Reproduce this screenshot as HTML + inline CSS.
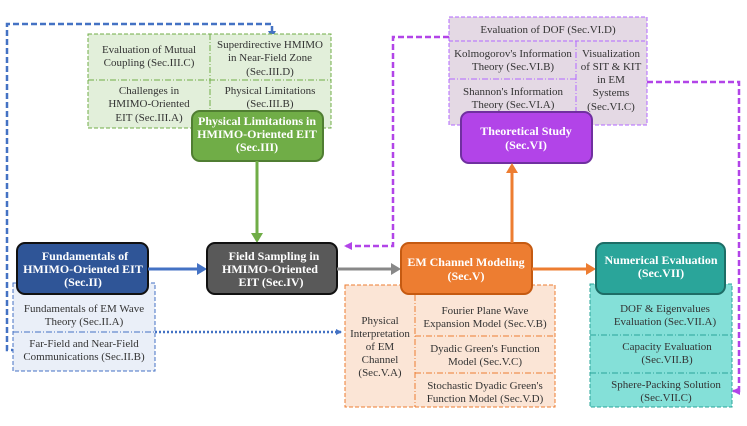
<!DOCTYPE html>
<html><head><meta charset="utf-8"><style>
body{margin:0;background:#fff}
svg text{font-family:"Liberation Serif",serif;font-size:11px;fill:#333;text-anchor:middle}
svg text.w{fill:#fff;font-weight:bold;font-size:12px}
</style></head><body>
<svg width="747" height="421" viewBox="0 0 747 421" xmlns="http://www.w3.org/2000/svg">
<defs>
<marker id="ab" markerWidth="6" markerHeight="6" refX="5" refY="3" orient="auto" markerUnits="userSpaceOnUse"><path d="M0,0L6,3L0,6z" fill="#4472c4"/></marker>
<marker id="ap" markerWidth="8" markerHeight="8" refX="7" refY="4" orient="auto" markerUnits="userSpaceOnUse"><path d="M0,0L8,4L0,8z" fill="#b244e8"/></marker>
</defs>
<path d="M17,350 H7 V24 H272 V34" fill="none" stroke="#4472c4" stroke-width="2.5" stroke-dasharray="6,3"/>
<path d="M268,31 L272,38 L276,31z" fill="#4472c4"/>
<rect x="88" y="34" width="243" height="94" fill="#e2efda" stroke="#70ad47" stroke-dasharray="4,2"/>
<line x1="210" y1="34" x2="210" y2="128" stroke="#70ad47" stroke-dasharray="6,2,1,2"/>
<line x1="88" y1="80" x2="331" y2="80" stroke="#70ad47" stroke-dasharray="6,2,1,2"/>
<text x="149" y="53">Evaluation of Mutual</text><text x="149" y="66">Coupling (Sec.III.C)</text>
<text x="270" y="48">Superdirective HMIMO</text><text x="270" y="61">in Near-Field Zone</text><text x="270" y="75">(Sec.III.D)</text>
<text x="149" y="94">Challenges in</text><text x="149" y="107">HMIMO-Oriented</text><text x="149" y="121">EIT (Sec.III.A)</text>
<text x="270" y="94">Physical Limitations</text><text x="270" y="107">(Sec.III.B)</text>
<rect x="192" y="111" width="131" height="50" rx="8" fill="#70ad47" stroke="#507e32" stroke-width="2"/>
<text class="w" x="257" y="125">Physical Limitations in</text><text class="w" x="257" y="138">HMIMO-Oriented EIT</text><text class="w" x="257" y="151">(Sec.III)</text>
<line x1="257" y1="161" x2="257" y2="234" stroke="#70ad47" stroke-width="3"/>
<path d="M251,233 L257,243 L263,233z" fill="#70ad47"/>
<rect x="449" y="17" width="198" height="108" fill="#e4d9e4" stroke="#b266ff" stroke-dasharray="4,2"/>
<line x1="449" y1="41" x2="647" y2="41" stroke="#b266ff" stroke-dasharray="4,2"/>
<line x1="576" y1="41" x2="576" y2="125" stroke="#b266ff" stroke-dasharray="6,2,1,2"/>
<line x1="449" y1="79" x2="576" y2="79" stroke="#b266ff" stroke-dasharray="6,2,1,2"/>
<text x="548" y="33">Evaluation of DOF (Sec.VI.D)</text>
<text x="513" y="57">Kolmogorov's Information</text><text x="513" y="70">Theory (Sec.VI.B)</text>
<text x="513" y="95">Shannon's Information</text><text x="513" y="108">Theory (Sec.VI.A)</text>
<text x="611" y="57">Visualization</text><text x="611" y="70">of SIT &amp; KIT</text><text x="611" y="83">in EM</text><text x="611" y="96">Systems</text><text x="611" y="110">(Sec.VI.C)</text>
<rect x="461" y="112" width="131" height="51" rx="8" fill="#b244e8" stroke="#7030a0" stroke-width="2"/>
<text class="w" x="526" y="135">Theoretical Study</text><text class="w" x="526" y="149">(Sec.VI)</text>
<path d="M449,37 H393 V246 H345" fill="none" stroke="#b244e8" stroke-width="2.5" stroke-dasharray="6,3" marker-end="url(#ap)"/>
<path d="M647,82 H739 V391 H733" fill="none" stroke="#b244e8" stroke-width="2.5" stroke-dasharray="6,3" marker-end="url(#ap)"/>
<rect x="13" y="283" width="142" height="88" fill="#eaeff8" stroke="#4472c4" stroke-dasharray="4,2"/>
<line x1="13" y1="332" x2="155" y2="332" stroke="#4472c4" stroke-dasharray="6,2,1,2"/>
<text x="84" y="312">Fundamentals of EM Wave</text><text x="84" y="325">Theory (Sec.II.A)</text>
<text x="84" y="347">Far-Field and Near-Field</text><text x="84" y="360">Communications (Sec.II.B)</text>
<line x1="155" y1="332" x2="341" y2="332" stroke="#4472c4" stroke-width="2.5" stroke-dasharray="2,2" marker-end="url(#ab)"/>
<rect x="17" y="243" width="131" height="51" rx="8" fill="#2f5597" stroke="#111" stroke-width="2"/>
<text class="w" x="85" y="260">Fundamentals of</text><text class="w" x="83" y="273">HMIMO-Oriented EIT</text><text class="w" x="83" y="286">(Sec.II)</text>
<line x1="148" y1="269" x2="198" y2="269" stroke="#4472c4" stroke-width="3"/>
<path d="M197,263 L207,269 L197,275z" fill="#4472c4"/>
<rect x="207" y="243" width="130" height="51" rx="8" fill="#595959" stroke="#111" stroke-width="2"/>
<text class="w" x="274" y="260">Field Sampling in</text><text class="w" x="270" y="273">HMIMO-Oriented</text><text class="w" x="271" y="286">EIT (Sec.IV)</text>
<line x1="337" y1="269" x2="392" y2="269" stroke="#888" stroke-width="3"/>
<path d="M391,263 L401,269 L391,275z" fill="#888"/>
<rect x="345" y="285" width="210" height="122" fill="#fbe5d6" stroke="#ed7d31" stroke-dasharray="4,2"/>
<line x1="415" y1="295" x2="415" y2="407" stroke="#ed7d31" stroke-dasharray="6,2,1,2"/>
<line x1="415" y1="336" x2="555" y2="336" stroke="#ed7d31" stroke-dasharray="6,2,1,2"/>
<line x1="415" y1="373" x2="555" y2="373" stroke="#ed7d31" stroke-dasharray="6,2,1,2"/>
<text x="380" y="324">Physical</text><text x="380" y="337">Interpretation</text><text x="380" y="350">of EM</text><text x="380" y="363">Channel</text><text x="380" y="376">(Sec.V.A)</text>
<text x="485" y="314">Fourier Plane Wave</text><text x="485" y="327">Expansion Model (Sec.V.B)</text>
<text x="485" y="352">Dyadic Green's Function</text><text x="485" y="365">Model (Sec.V.C)</text>
<text x="485" y="389">Stochastic Dyadic Green's</text><text x="485" y="402">Function Model (Sec.V.D)</text>
<rect x="401" y="243" width="131" height="51" rx="8" fill="#ed7d31" stroke="#c55a11" stroke-width="2"/>
<text class="w" x="466" y="266">EM Channel Modeling</text><text class="w" x="466" y="280">(Sec.V)</text>
<line x1="512" y1="243" x2="512" y2="172" stroke="#ed7d31" stroke-width="3"/>
<path d="M506,173 L512,163 L518,173z" fill="#ed7d31"/>
<line x1="532" y1="269" x2="587" y2="269" stroke="#ed7d31" stroke-width="3"/>
<path d="M586,263 L596,269 L586,275z" fill="#ed7d31"/>
<rect x="590" y="284" width="142" height="123" fill="#84e0d8" stroke="#2aa59a" stroke-dasharray="4,2"/>
<line x1="590" y1="335" x2="732" y2="335" stroke="#2aa59a" stroke-dasharray="6,2,1,2"/>
<line x1="590" y1="373" x2="732" y2="373" stroke="#2aa59a" stroke-dasharray="6,2,1,2"/>
<text x="665" y="312">DOF &amp; Eigenvalues</text><text x="665" y="325">Evaluation (Sec.VII.A)</text>
<text x="667" y="350">Capacity Evaluation</text><text x="667" y="363">(Sec.VII.B)</text>
<text x="666" y="388">Sphere-Packing Solution</text><text x="666" y="401">(Sec.VII.C)</text>
<rect x="596" y="243" width="129" height="51" rx="8" fill="#2aa59a" stroke="#1d6d66" stroke-width="2"/>
<text class="w" x="661" y="264">Numerical Evaluation</text><text class="w" x="661" y="277">(Sec.VII)</text>
</svg>
</body></html>
